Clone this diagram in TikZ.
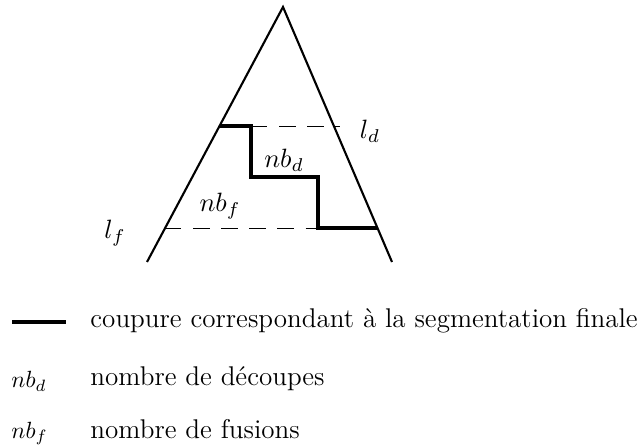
\RequirePackage{fix-cm}
\documentclass[tikz,border=0pt]{standalone}
\usepackage{fontspec}
\usepackage{tikz}
\usetikzlibrary{positioning,calc}

\begin{document}
\begin{tikzpicture}[x=0.015cm,y=-0.015cm,
  every node/.style={font=\fontsize{11.3}{13.6}\selectfont},
  side/.style={line width=0.9pt},
  cut/.style={line width=1.3pt},
  level/.style={thin,dash pattern=on 7pt off 5pt},
  lbl/.style={inner sep=0pt},
  legtxt/.style={anchor=base west,inner sep=0pt,font=\fontsize{11.55}{13.8}\selectfont},
  legsym/.style={anchor=base west,inner sep=0pt,font=\fontsize{10}{12}\selectfont}
]
  \useasboundingbox (0,0) rectangle (638,445);

  \coordinate (apex) at (283,7);
  \coordinate (bl) at (147,262);
  \coordinate (br) at (392,262);
  \coordinate (c1) at (220,126);
  \coordinate (c2) at (251,126);
  \coordinate (c3) at (251,177);
  \coordinate (c4) at (318,177);
  \coordinate (c5) at (318,228);
  \coordinate (c6) at (377,228);
  \coordinate (dend) at (340,126);
  \coordinate (fstart) at (165,228);

  \draw[side] (bl) -- (apex) -- (br);
  \draw[level] (c2) -- (dend);
  \draw[level] (fstart) -- (c5);
  \draw[cut] (c1) -- (c2) -- (c3) -- (c4) -- (c5) -- (c6);

  \node[lbl] (ld) at (370,131) {$l_d$};
  \node[lbl] (nbd) at (284,160) {$nb_d$};
  \node[lbl] (nbf) at (220,206) {$nb_f$};
  \node[lbl] (lf) at (115,233) {$l_f$};

  % legende
  \coordinate (la) at (12,322);
  \coordinate (lb) at (66,322);
  \draw[cut] (la) -- (lb);
  \node[legtxt] (t1) at (90,328) {coupure correspondant à la segmentation finale};
  \node[legsym] (s2) at (11,388) {$nb_d$};
  \node[legtxt] (t2) at (90,386) {nombre de découpes};
  \node[legsym] (s3) at (11,438) {$nb_f$};
  \node[legtxt] (t3) at (90,438) {nombre de fusions};
\end{tikzpicture}
\end{document}
